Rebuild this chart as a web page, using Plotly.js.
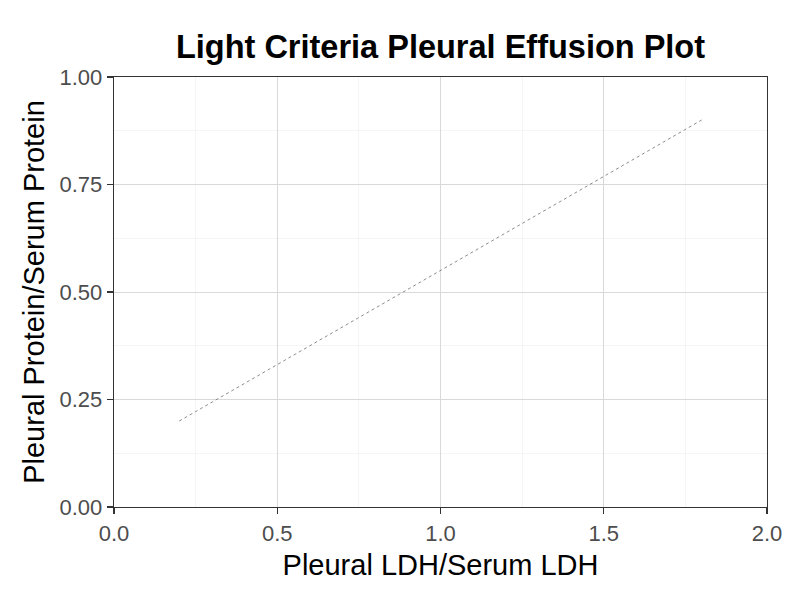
<!DOCTYPE html>
<html>
<head>
<meta charset="utf-8">
<script src="https://cdn.plot.ly/plotly-3.0.1.min.js"></script>
<style>
  html, body { margin: 0; padding: 0; background: #ffffff; }
  #chart { width: 800px; height: 600px; }
</style>
</head>
<body>
<div id="chart"></div>
<script>
// Light's criteria boundary line: LDH ratio vs protein ratio
const ldhRatio = [0.2, 1.8];
const proteinRatio = [0.2, 0.9];

const xTicks = [0, 0.5, 1, 1.5, 2];
const xTickText = ['0.0', '0.5', '1.0', '1.5', '2.0'];
const yTicks = [0, 0.25, 0.5, 0.75, 1];
const yTickText = ['0.00', '0.25', '0.50', '0.75', '1.00'];

const font = 'Liberation Sans, Arial, sans-serif';

const traces = [{
  x: ldhRatio,
  y: proteinRatio,
  type: 'scatter',
  mode: 'lines',
  line: { color: '#6e6e6e', width: 0.8, dash: '3px,3px' },
  hoverinfo: 'skip',
  showlegend: false
}];

const axisCommon = {
  showline: true,
  mirror: true,
  linecolor: '#333333',
  linewidth: 1.3,
  ticks: 'outside',
  ticklen: 6,
  tickwidth: 1.3,
  tickcolor: '#333333',
  showgrid: true,
  gridcolor: '#d9d9d9',
  gridwidth: 1,
  zeroline: false,
  tickfont: { family: font, size: 22, color: '#4d4d4d' }
};

const layout = {
  width: 800,
  height: 600,
  paper_bgcolor: '#ffffff',
  plot_bgcolor: '#ffffff',
  margin: { l: 114, r: 33, t: 77, b: 93 },
  title: {
    text: '<b>Light Criteria Pleural Effusion Plot</b>',
    font: { family: font, size: 32.5, color: '#000000' },
    xref: 'paper', x: 0.5, xanchor: 'center',
    yref: 'container', y: 0.923, yanchor: 'middle'
  },
  xaxis: Object.assign({}, axisCommon, {
    range: [0, 2],
    tickvals: xTicks,
    ticktext: xTickText,
    minor: { dtick: 0.25, tick0: 0, showgrid: true, gridcolor: '#eeeeee', gridwidth: 0.6, ticks: '' },
    title: { text: 'Pleural LDH/Serum LDH', font: { family: font, size: 29, color: '#000000' }, standoff: 10 }
  }),
  yaxis: Object.assign({}, axisCommon, {
    range: [0, 1],
    tickvals: yTicks,
    ticktext: yTickText,
    minor: { dtick: 0.125, tick0: 0, showgrid: true, gridcolor: '#eeeeee', gridwidth: 0.6, ticks: '' },
    title: { text: 'Pleural Protein/Serum Protein', font: { family: font, size: 29, color: '#000000' }, standoff: 6 }
  })
};

Plotly.newPlot('chart', traces, layout, { displayModeBar: false, staticPlot: true });
</script>
</body>
</html>
